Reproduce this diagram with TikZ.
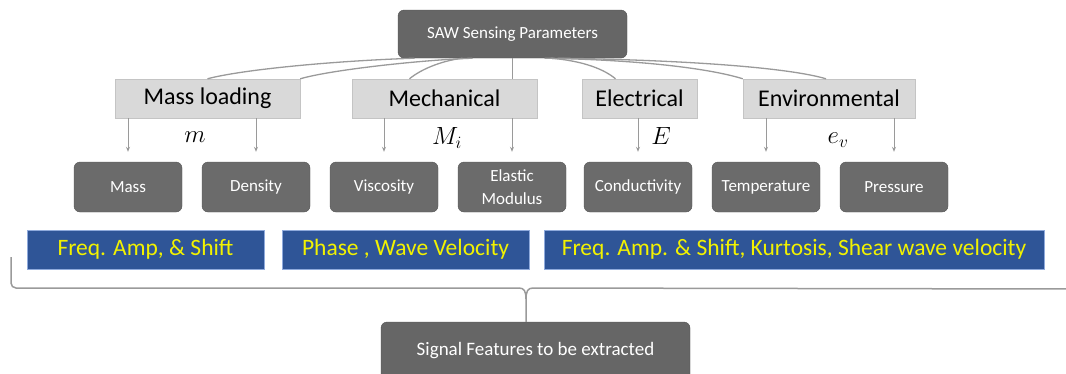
\documentclass[tikz,border=0pt]{standalone}
\usepackage{fontspec}
\setmainfont{Carlito}
\usepackage{xcolor}
\usepackage{tikz}
\usetikzlibrary{arrows.meta}

\definecolor{topgray}{HTML}{666666}
\definecolor{catgray}{HTML}{D9D9D9}
\definecolor{catline}{HTML}{C4C4C4}
\definecolor{leafgray}{HTML}{6B6B6B}
\definecolor{leafline}{HTML}{555555}
\definecolor{featblue}{HTML}{2F5597}
\definecolor{featline}{HTML}{8FAADC}
\definecolor{feattext}{HTML}{F2F200}
\definecolor{linkgray}{HTML}{9A9A9A}

\begin{document}
\begin{tikzpicture}[
        x=1pt, y=-1pt,
        rootbox/.style={
            draw=topgray!80!black,
            fill=topgray,
            rounded corners=6pt,
            minimum width=229pt,
            minimum height=48pt,
            inner sep=0pt,
            text=white,
            font=\fontsize{17}{20}\selectfont
        },
        category/.style={
            draw=catline,
            fill=catgray,
            minimum height=39pt,
            inner sep=0pt,
            font=\fontsize{24}{28}\selectfont
        },
        leaf/.style={
            draw=leafline,
            fill=leafgray,
            rounded corners=6pt,
            minimum width=108pt,
            minimum height=50pt,
            inner sep=0pt,
            align=center,
            text=white,
            font=\fontsize{17}{23}\selectfont
        },
        feature/.style={
            draw=featline,
            fill=featblue,
            minimum height=39pt,
            inner sep=0pt,
            text=feattext,
            font=\fontsize{23.5}{27}\selectfont
        },
        symb/.style={font=\fontsize{27}{30}\selectfont},
        link/.style={draw=linkgray, line width=1.3pt},
        leafarrow/.style={-{Stealth[length=5pt,width=4pt]}, draw=linkgray, line width=0.8pt, shorten >=10pt},
        brace/.style={draw=linkgray, line width=1.5pt}
    ]
        \useasboundingbox (0,0) rectangle (1066,373);

        \node[rootbox] (root) at (512.5,34) {SAW Sensing Parameters};

        \node[category, minimum width=185pt] (massload) at (207.5,98.5) {Mass loading};
        \node[category, minimum width=185pt] (mech) at (444.5,98.5) {Mechanical};
        \node[category, minimum width=115pt] (elec) at (639.5,98.5) {Electrical};
        \node[category, minimum width=172pt] (env) at (829,98.5) {Environmental};

        \draw[link] ([xshift=-98pt]root.south) .. controls (330,61) and (240,70) .. (massload.north);
        \draw[link] ([xshift=-40pt]root.south) .. controls (420,60) and (330,70) .. (massload.north east);
        \draw[link] ([xshift=-50pt]root.south) .. controls (440,61) and (420,70) .. ([xshift=-35pt]mech.north);
        \draw[link] (root.south) -- (root.south |- mech.north);
        \draw[link] ([xshift=38pt]root.south) .. controls (585,61) and (605,70) .. ([xshift=-24pt]elec.north);
        \draw[link] ([xshift=32pt]root.south) .. controls (650,60) and (715,70) .. (env.north west);
        \draw[link] ([xshift=45pt]root.south) .. controls (690,60) and (790,68) .. ([xshift=-3pt]env.north);

        \node[leaf] (mass) at (128,187) {Mass};
        \node[leaf] (density) at (256,187) {Density};
        \node[leaf] (visc) at (384,187) {Viscosity};
        \node[leaf] (elastic) at (512,187) {Elastic\\Modulus};
        \node[leaf] (cond) at (638,187) {Conductivity};
        \node[leaf] (temp) at (766,187) {Temperature};
        \node[leaf] (press) at (894,187) {Pressure};

        \draw[leafarrow] (massload.south -| mass.north) -- (mass.north);
        \draw[leafarrow] (massload.south -| density.north) -- (density.north);
        \draw[leafarrow] (mech.south -| visc.north) -- (visc.north);
        \draw[leafarrow] (mech.south -| elastic.north) -- (elastic.north);
        \draw[leafarrow] (elec.south -| cond.north) -- (cond.north);
        \draw[leafarrow] (env.south -| temp.north) -- (temp.north);
        \draw[leafarrow] (env.south -| press.north) -- (press.north);

        \node[symb] (msym) at (195,137) {$m$};
        \node[symb] (Msym) at (447,138) {$M_i$};
        \node[symb] (Esym) at (661,136) {$E$};
        \node[symb] (esym) at (838,140) {$e_v$};

        \node[feature, minimum width=237pt] (feat1) at (145.5,249.5) {Freq. Amp, \& Shift};
        \node[feature, minimum width=247pt] (feat2) at (405.5,249.5) {Phase , Wave Velocity};
        \node[feature, minimum width=500pt] (feat3) at (794,249.5) {Freq. Amp. \& Shift, Kurtosis, Shear wave velocity};

        \node[rootbox, minimum width=309pt, minimum height=58pt, font=\fontsize{19}{22}\selectfont] (signal) at (535.5,351) {Signal Features to be extracted};

        \coordinate (braceL) at (11,257);
        \coordinate (braceR) at (1070,289);
        \draw[brace, rounded corners=5pt] (braceL) |- (519,288);
        \draw[brace] (519,288) .. controls (524,288) and (526,291) .. (526,299) -- ([xshift=-9.5pt]signal.north);
        \draw[brace] (braceR) -- (533,288) .. controls (528,288) and (526,291) .. (526,299);
    \end{tikzpicture}
\end{document}
